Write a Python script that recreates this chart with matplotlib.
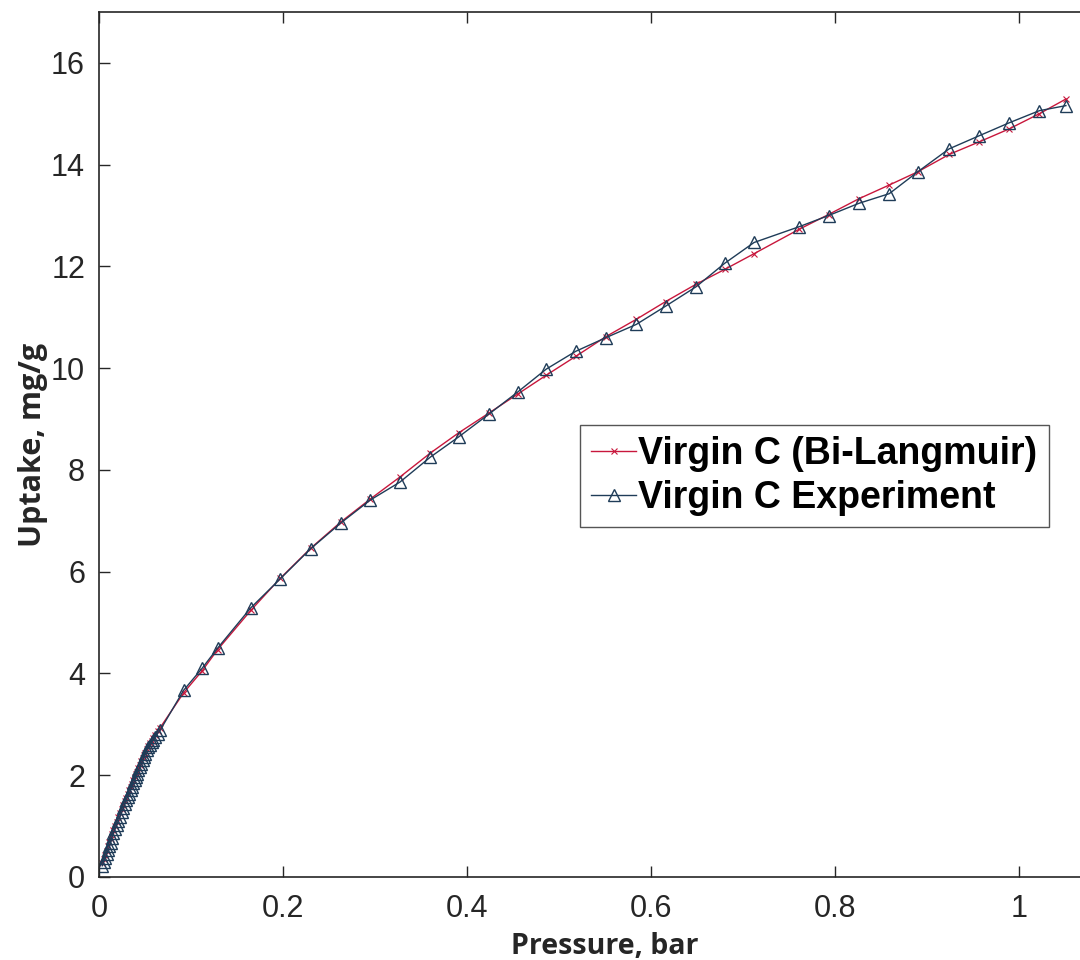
import matplotlib
matplotlib.use("Agg")
import matplotlib.pyplot as plt

# Experimental isotherm (pressure in bar, uptake in mg/g)
p_exp = [0.0036, 0.0050, 0.0065, 0.0083, 0.0101, 0.0114, 0.0127, 0.0141,
         0.0156, 0.0174, 0.0192, 0.0210, 0.0228, 0.0246, 0.0264, 0.0279,
         0.0293, 0.0311, 0.0330, 0.0343, 0.0355, 0.0372, 0.0390, 0.0400,
         0.0410, 0.0428, 0.0446, 0.0461, 0.0475, 0.0488, 0.0500, 0.0518,
         0.0536, 0.0555, 0.0573, 0.0591, 0.0609, 0.0636, 0.0663,
         0.092, 0.112, 0.129, 0.165, 0.197, 0.230, 0.263, 0.295, 0.327,
         0.360, 0.391, 0.424, 0.455, 0.486, 0.518, 0.551, 0.584, 0.616,
         0.649, 0.680, 0.712, 0.761, 0.793, 0.826, 0.859, 0.890, 0.924,
         0.957, 0.989, 1.022, 1.051]
q_exp = [0.22, 0.30, 0.37, 0.45, 0.53, 0.60, 0.67, 0.77,
         0.86, 0.94, 1.02, 1.10, 1.18, 1.27, 1.35, 1.43,
         1.51, 1.58, 1.64, 1.71, 1.77, 1.84, 1.90, 1.97,
         2.03, 2.10, 2.16, 2.23, 2.29, 2.36, 2.42, 2.49,
         2.55, 2.60, 2.65, 2.70, 2.75, 2.82, 2.88,
         3.67, 4.10, 4.50, 5.29, 5.86, 6.45, 6.96, 7.41, 7.76,
         8.25, 8.65, 9.10, 9.53, 9.98, 10.33, 10.60, 10.86, 11.22,
         11.60, 12.06, 12.47, 12.78, 13.00, 13.24, 13.43, 13.86, 14.31,
         14.57, 14.82, 15.06, 15.16]

# Bi-Langmuir fit evaluated at the same pressures
q_fit = [0.27, 0.35, 0.43, 0.52, 0.60, 0.68, 0.75, 0.84,
         0.92, 1.01, 1.09, 1.18, 1.26, 1.34, 1.42, 1.49,
         1.56, 1.64, 1.71, 1.77, 1.83, 1.90, 1.96, 2.02,
         2.07, 2.14, 2.21, 2.27, 2.33, 2.39, 2.44, 2.51,
         2.57, 2.63, 2.68, 2.74, 2.79, 2.86, 2.93,
         3.62, 4.05, 4.47, 5.24, 5.87, 6.46, 6.98, 7.43, 7.86,
         8.33, 8.73, 9.12, 9.49, 9.86, 10.23, 10.62, 10.96, 11.31,
         11.65, 11.94, 12.25, 12.73, 13.02, 13.33, 13.60, 13.86, 14.20,
         14.45, 14.70, 15.00, 15.29]

RED = "#c8173c"
NAVY = "#1f3c58"

fig = plt.figure(figsize=(10.8, 9.6), dpi=100)
ax = fig.add_axes([99 / 1080, 83 / 960, 1012 / 1080, 865 / 960])

ax.plot(p_exp, q_fit, color=RED, marker="x", markersize=5, linewidth=1.0,
        markeredgewidth=0.8, label="Virgin C (Bi-Langmuir)")
ax.plot(p_exp, q_exp, color=NAVY, marker="^", markersize=9, linewidth=1.0,
        markerfacecolor="none", markeredgewidth=1.0,
        label="Virgin C Experiment")

ax.set_xlim(0, 1.1)
ax.set_ylim(0, 17)
ax.set_xticks([0, 0.2, 0.4, 0.6, 0.8, 1.0])
ax.set_xticklabels(["0", "0.2", "0.4", "0.6", "0.8", "1"])
ax.set_yticks(range(0, 17, 2))

for lab in ax.get_xticklabels() + ax.get_yticklabels():
    lab.set_family("Liberation Sans")
    lab.set_fontsize(22)
    lab.set_color("#262626")

ax.tick_params(direction="in", length=8, width=1, top=True, right=True,
               colors="#262626")
ax.tick_params(axis="x", pad=12)
ax.tick_params(axis="y", pad=10)
for s in ax.spines.values():
    s.set_linewidth(1.2)
    s.set_color("#262626")

ax.set_xlabel("Pressure, bar", fontsize=20.5, fontweight="bold",
              family="Open Sans", color="#262626", labelpad=6)
ax.set_ylabel("Uptake, mg/g", fontsize=22, fontweight="bold",
              family="Open Sans", color="#262626", labelpad=2)

leg = ax.legend(loc="upper left", bbox_to_anchor=(580 / 1080, 1 - 425 / 960),
                bbox_transform=fig.transFigure, borderaxespad=0,
                prop={"family": "Liberation Sans", "weight": "bold", "size": 27},
                handlelength=1.2, handletextpad=0.05, borderpad=0.3,
                labelspacing=0.2, fancybox=False, framealpha=1)
leg.get_frame().set_edgecolor("#555555")
leg.get_frame().set_linewidth(1.0)

fig.savefig("out.png", dpi=100)
